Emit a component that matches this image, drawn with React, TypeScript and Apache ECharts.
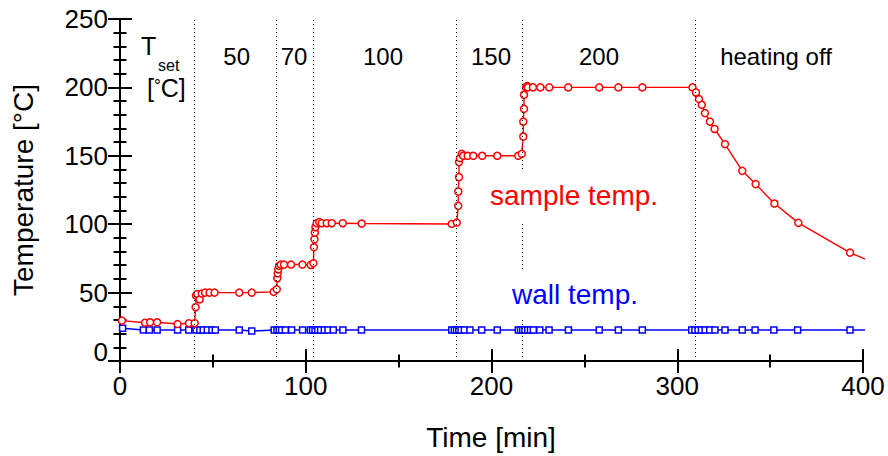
import React, { useEffect, useRef } from "react";
import * as echarts from "echarts";

// ---- data ----
const sampleTime = [
  1, 13.5, 16.2, 20, 31, 37.1, 40.2, 40.7, 40.9, 41.6, 42.9, 44, 45.8, 48.2, 50.9, 64.2, 70.9,
  82.7, 84.4, 84.7, 84.9, 85.2, 85.6, 86.5, 88.3, 92.1, 98.2, 102.7, 104.1, 104.4, 104.7, 104.9,
  105.2, 105.9, 107.3, 108.6, 111.3, 114, 119.9, 130.1, 178.6, 181.3, 182.1, 182.1, 182.5, 182.5,
  183, 184, 184.8, 187.2, 190.2, 195, 203.1, 214.4, 216.3, 217.1, 217.1, 217.5, 217.5, 218.6,
  219.2, 219.6, 222.3, 226.3, 231.1, 241.3, 258, 268.3, 281.2, 308.2, 310.1, 311.7, 313.2, 314.9,
  317.6, 320.1, 325.7, 335, 342.2, 352.3, 365.2, 393, 410,
];
const sampleTemp = [
  29.5, 28, 28.3, 28.3, 27, 27.6, 27.6, 39.3, 47.8, 49, 45, 49.3, 50, 50, 50, 50, 50,
  50.5, 52.4, 60.5, 64.1, 67, 69.5, 70.5, 70.5, 70.5, 70.5, 70.2, 71.5, 83.2, 89, 93.9,
  97.8, 100.7, 101.5, 100.7, 100.7, 100.7, 100.7, 100.5, 100.2, 101.2, 113.4, 123.9, 134.4, 145.4,
  148.3, 151.4, 150, 150, 150, 150, 150, 150, 151.4, 164.1, 175, 184.3, 194.6, 200,
  201, 200, 200, 200, 200, 200, 200, 200, 200, 200, 196.3, 191.4, 187.3, 181.2,
  175, 169.6, 158.5, 139, 129.3, 115.1, 101, 79.2, 69.5,
];
const wallTime = [
  1.4, 12.6, 15.8, 20, 31, 37, 40.9, 43, 44.8, 47, 49.5, 51.3, 64.2, 70.9, 83, 84.5, 85.7, 87,
  89, 92.4, 98.3, 102.5, 103.7, 105, 106.5, 108, 110, 112, 114.8, 120, 130, 178.6, 180, 181.2,
  182.4, 183.6, 185.4, 188.4, 194.7, 203.1, 214.4, 215.6, 216.8, 218, 219.5, 221, 222.5, 226,
  231, 241.4, 258, 268.3, 281.2, 307.8, 309.5, 311.2, 313, 315, 317.5, 320.3, 325.7, 335, 341.9,
  352, 364.8, 393, 410,
];
const wallTemp = [
  23.9, 22.7, 22.7, 22.7, 22.7, 22.7, 22.7, 22.7, 22.7, 22.7, 22.7, 22.7, 22.7, 21.9, 22.7, 22.7,
  22.7, 22.7, 22.7, 22.7, 22.7, 22.7, 22.7, 22.7, 22.7, 22.7, 22.7, 22.7, 22.7, 22.7, 22.7, 22.7,
  22.7, 22.7, 22.7, 22.7, 22.7, 22.7, 22.7, 22.7, 22.7, 22.7, 22.7, 22.7, 22.7, 22.7, 22.7, 22.7,
  22.7, 22.7, 22.7, 22.7, 22.7, 22.7, 22.7, 22.7, 22.7, 22.7, 22.7, 22.7, 22.7, 22.7, 22.7, 22.7,
  22.7, 22.7, 22.7,
];
const setpointLines = [40, 84, 104, 181, 216.3, 309.5];
const setpointLabels = ["50", "70", "100", "150", "200", "heating off"];

const FONT = "'Liberation Sans', Arial, Helvetica, sans-serif";

export default function App() {
  const ref = useRef<HTMLDivElement>(null);
  useEffect(() => {
    if (!ref.current) return;
    const chart = echarts.init(ref.current, undefined, { renderer: "svg" });
    const gridLeft = 120, gridRight = 25, gridTop = 19, gridBottom = 95;
    const xAxisBase = {
      type: "value" as const,
      min: 0,
      max: 400,
      interval: 100,
      axisLine: { lineStyle: { color: "#000", width: 2 } },
      axisTick: { inside: true, length: 12, lineStyle: { color: "#000", width: 2 } },
      minorTick: { show: true, splitNumber: 2, length: 6.5, lineStyle: { color: "#000", width: 2 } },
      splitLine: { show: false },
    };
    const yAxisBase = {
      type: "value" as const,
      min: 0,
      max: 250,
      interval: 50,
      axisLine: { lineStyle: { color: "#000", width: 2 } },
      axisTick: { inside: true, length: 12, lineStyle: { color: "#000", width: 2 } },
      minorTick: { show: true, splitNumber: 5, length: 6.5, lineStyle: { color: "#000", width: 2 } },
      splitLine: { show: false },
    };
    const labelCenters = [236.7, 294, 383, 491, 599, 776];
    const txt = (text: string, x: number, y: number, size: number, color = "#000", align = "center", extra: any = {}) => ({
      type: "text",
      x,
      y,
      z: 20,
      style: {
        text,
        fill: color,
        font: `${size}px ${FONT}`,
        textAlign: align,
        textVerticalAlign: "middle",
        ...extra,
      },
    });
    chart.setOption({
      animation: false,
      backgroundColor: "#fff",
      grid: { left: gridLeft, right: gridRight, top: gridTop, bottom: gridBottom, containLabel: false },
      xAxis: [
        {
          ...xAxisBase,
          position: "bottom",
          axisLabel: { color: "#000", fontSize: 26, fontFamily: FONT, margin: 12 },
        },
        { ...xAxisBase, position: "top", axisLabel: { show: false } },
      ],
      yAxis: [
        {
          ...yAxisBase,
          position: "left",
          axisLabel: {
            color: "#000",
            fontSize: 26,
            fontFamily: FONT,
            margin: 12,
            formatter: (v: number) => (v === 0 ? "{z|0}" : String(v)),
            rich: { z: { color: "#000", fontSize: 26, fontFamily: FONT, padding: [0, 0, 18, 0] } },
          },
        },
        { ...yAxisBase, position: "right", axisLabel: { show: false } },
      ],
      series: [
        {
          type: "line",
          data: [],
          z: 1,
          silent: true,
          markLine: {
            silent: true,
            symbol: ["none", "none"],
            label: { show: false },
            lineStyle: { color: "#000", type: [1, 3], width: 1 },
            data: setpointLines.map((x) => ({ xAxis: x })),
          },
        },
        {
          name: "wall temp.",
          type: "line",
          z: 3,
          data: wallTime.map((t, i) => [t, wallTemp[i]]),
          symbol: "rect",
          symbolSize: 6,
          showAllSymbol: true,
          lineStyle: { color: "#0000ff", width: 1.4 },
          itemStyle: { color: "#fff", borderColor: "#0000ff", borderWidth: 1.5 },
        },
        {
          name: "sample temp.",
          type: "line",
          z: 4,
          data: sampleTime.map((t, i) => [t, sampleTemp[i]]),
          symbol: "circle",
          symbolSize: 7,
          showAllSymbol: true,
          lineStyle: { color: "#ff0000", width: 1.4 },
          itemStyle: { color: "#fff", borderColor: "#ff0000", borderWidth: 1.5 },
        },
      ],
      graphic: [
        txt("T", 141, 46, 25, "#000", "left"),
        txt("set", 158, 65, 16, "#000", "left"),
        {
          type: "text",
          x: 147,
          y: 88,
          z: 20,
          style: {
            text: "[{d|°}C]",
            fill: "#000",
            font: `25px ${FONT}`,
            textAlign: "left",
            textVerticalAlign: "middle",
            rich: {
              d: { fontSize: 17, fontFamily: FONT, fill: "#000", padding: [0, 0, 6, 0] },
            },
          },
        },
        ...setpointLabels.map((s, i) => txt(s, labelCenters[i], 56, 24)),
        txt("sample temp.", 486, 195, 28, "#ff0000", "left", { backgroundColor: "#fff", padding: [12, 4, 12, 4] }),
        txt("wall temp.", 508, 294, 28, "#0000ff", "left", { backgroundColor: "#fff", padding: [11, 4, 11, 4] }),
        {
          type: "text",
          x: 23,
          y: 190,
          rotation: Math.PI / 2,
          style: {
            text: "Temperature [°C]",
            fill: "#000",
            font: `28px ${FONT}`,
            textAlign: "center",
            textVerticalAlign: "middle",
          },
        },
        txt("Time [min]", 491, 437, 28),
      ],
    });
    return () => chart.dispose();
  }, []);
  return (
    <div
      ref={ref}
      style={{ position: "fixed", left: 0, top: 0, width: 888, height: 456, background: "#fff" }}
    />
  );
}
